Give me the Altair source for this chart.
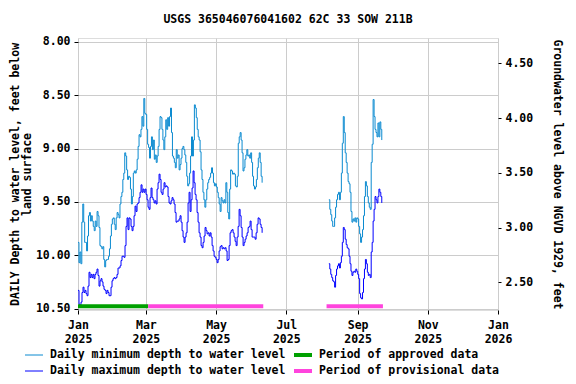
import altair as alt
import pandas as pd

TITLE = "USGS 365046076041602 62C 33 SOW 211B"
MIN_NAME = "Daily minimum depth to water level"
MAX_NAME = "Daily maximum depth to water level"
APP_NAME = "Period of approved data"
PRO_NAME = "Period of provisional data"

# Segment 1: 2025-01-01 .. 2025-06-10
seg1_span = ("2025-01-01", "2025-06-10")
min1 = [9.88,10.07,9.97,10.08,9.69,9.52,9.69,9.88,9.88,9.96,9.82,9.63,9.60,9.68,9.63,9.68,9.73,9.77,9.68,9.73,
        9.59,9.63,9.74,9.91,9.92,9.94,9.92,10.04,10.11,10.05,10.04,10.04,10.01,9.94,9.82,9.71,9.66,9.65,9.71,9.76,
        9.65,9.60,9.62,9.65,9.52,9.45,9.41,9.29,9.23,9.04,9.07,9.20,9.29,9.26,9.27,9.38,9.52,9.45,9.23,9.21,
        9.23,9.20,9.10,8.98,8.87,8.89,8.82,8.70,8.79,8.53,8.67,8.68,8.82,8.96,8.99,9.09,8.98,8.89,9.01,8.92,
        9.10,9.06,9.13,9.07,8.98,8.82,8.70,8.71,8.82,8.92,9.01,8.89,8.73,8.82,8.71,8.79,8.70,8.62,8.85,9.07,
        9.09,9.13,9.18,9.01,9.09,9.06,9.20,9.15,9.09,9.00,8.98,9.01,9.06,9.13,9.26,9.35,9.33,9.23,9.07,8.89,
        9.07,8.92,8.59,8.62,8.71,8.82,8.89,8.92,9.03,9.20,9.29,9.41,9.48,9.55,9.48,9.38,9.32,9.29,9.27,9.23,
        9.18,9.23,9.32,9.35,9.33,9.36,9.41,9.46,9.52,9.59,9.46,9.49,9.51,9.48,9.51,9.32,9.41,9.60,9.66,9.38,
        9.20,9.21,9.24,9.23,9.24,9.35,9.36,9.26,8.95,8.89,8.85,8.92,9.04,9.21,9.18,9.10,9.06,9.01,9.07,9.06,
        9.09,9.04,9.13,9.26,9.35,9.38,9.36,9.29,9.18,9.09,9.04,9.13,9.26,9.32]
max1 = [10.33,10.46,10.47,10.44,10.35,10.30,10.35,10.33,10.36,10.38,10.29,10.16,10.21,10.18,10.21,10.18,10.22,10.18,10.16,10.13,
        10.19,10.29,10.24,10.22,10.25,10.29,10.32,10.33,10.36,10.33,10.35,10.38,10.38,10.30,10.24,10.22,10.21,10.22,10.21,10.18,
        10.12,10.12,10.10,10.05,10.01,10.01,10.02,9.91,9.73,9.65,9.76,9.65,9.66,9.73,9.77,9.73,9.63,9.54,9.59,9.52,
        9.51,9.46,9.41,9.34,9.41,9.38,9.41,9.38,9.43,9.48,9.55,9.57,9.46,9.37,9.46,9.48,9.51,9.49,9.52,9.38,
        9.32,9.24,9.29,9.41,9.43,9.38,9.32,9.36,9.35,9.36,9.45,9.51,9.52,9.49,9.46,9.48,9.52,9.60,9.69,9.68,
        9.68,9.66,9.63,9.69,9.77,9.83,9.88,9.83,9.79,9.69,9.51,9.41,9.59,9.48,9.37,9.21,9.32,9.43,9.48,9.60,
        9.69,9.79,9.83,9.91,9.93,9.88,9.82,9.74,9.77,9.80,9.79,9.82,9.79,9.83,9.91,9.96,10.01,10.02,10.04,10.07,
        10.04,9.96,9.92,9.91,9.94,9.93,9.94,9.93,9.96,10.05,10.04,9.91,9.79,9.77,9.76,9.79,9.83,9.87,9.91,9.83,
        9.73,9.57,9.63,9.74,9.83,9.91,9.88,9.85,9.82,9.79,9.74,9.73,9.68,9.76,9.83,9.83,9.83,9.85,9.79,9.71,
        9.65,9.66,9.71,9.74,9.79]

# Segment 2: 2025-08-07 .. 2025-09-22
seg2_span = ("2025-08-07", "2025-09-22")
min2 = [9.48,9.57,9.62,9.68,9.73,9.73,9.65,9.55,9.48,9.43,9.41,9.48,9.41,9.23,8.95,8.70,8.85,9.04,9.13,9.23,
        9.31,9.33,9.41,9.59,9.69,9.66,9.68,9.65,9.69,9.65,9.66,9.73,9.80,9.88,9.83,9.76,9.63,9.45,9.31,9.35,
        9.45,9.51,9.55,9.57,9.13,8.96,8.54,8.70,8.82,8.85,8.89,8.76,8.89,8.75,8.82,8.92]
max2 = [10.08,10.13,10.18,10.21,10.24,10.25,10.30,10.19,10.13,10.10,10.08,10.12,10.07,10.01,9.88,9.74,9.76,9.85,9.90,9.93,
        9.94,10.01,10.08,10.15,10.19,10.16,10.15,10.16,10.13,10.15,10.18,10.22,10.36,10.40,10.41,10.35,10.22,10.13,10.04,10.08,
        10.16,10.19,10.18,10.21,9.97,9.88,9.68,9.57,9.45,9.48,9.51,9.45,9.38,9.41,9.45,9.51]

# Data-status periods
period_names = [APP_NAME, PRO_NAME, PRO_NAME]
period_start = ["2025-01-01", "2025-03-03", "2025-08-05"]
period_end = ["2025-03-03", "2025-06-11", "2025-09-23"]
period_depth = 10.48

x_ticks = [(2025, 1), (2025, 3), (2025, 5), (2025, 7), (2025, 9), (2025, 11), (2026, 1)]
left_ticks = [8.0, 8.5, 9.0, 9.5, 10.0, 10.5]
right_ticks = [2.5, 3.0, 3.5, 4.0, 4.5]

left_domain = [7.963, 10.514]
right_domain = [2.248, 4.73]

line_names = [MIN_NAME, MAX_NAME]
line_colors = ["#0a8ad0", "#0000ff"]
status_names = [APP_NAME, PRO_NAME]
status_colors = ["#00a000", "#ff44dd"]

FONT = "DejaVu Sans Mono"
FS = 11.5
THIN_SYMBOL = "M-1.2,0H1.2"
THICK_SYMBOL = "M-1.2,-0.2H1.2M-1.2,-0.0667H1.2M-1.2,0.0667H1.2M-1.2,0.2H1.2"


def legend(x, symbol):
    return alt.Legend(
        title=None, orient="none", legendX=x, legendY=309, direction="vertical",
        symbolType=symbol, symbolSize=225, symbolStrokeWidth=1, labelOffset=8,
        rowPadding=2, padding=0,
        labelFont=FONT, labelFontSize=FS, labelFontWeight="bold", labelColor="black",
        labelLimit=400,
    )


def seg(vals, span, name, sid):
    d = pd.date_range(span[0], span[1], periods=len(vals))
    return pd.DataFrame({"date": d, "depth": vals, "series": name, "seg": sid})


lines = pd.concat([
    seg(min1, seg1_span, MIN_NAME, "a1"),
    seg(max1, seg1_span, MAX_NAME, "b1"),
    seg(min2, seg2_span, MIN_NAME, "a2"),
    seg(max2, seg2_span, MAX_NAME, "b2"),
], ignore_index=True)

periods = pd.DataFrame({
    "start": pd.to_datetime(period_start),
    "end": pd.to_datetime(period_end),
    "status": period_names,
    "depth": [period_depth] * len(period_names),
})

right_df = pd.DataFrame({"level": right_ticks})

xscale = alt.Scale(domain=[alt.DateTime(year=2025, month=1, date=1),
                           alt.DateTime(year=2026, month=1, date=1)])
xaxis = alt.Axis(
    title=None,
    values=[alt.DateTime(year=y, month=m, date=1) for y, m in x_ticks],
    labelExpr="[timeFormat(datum.value, '%b'), timeFormat(datum.value, '%Y')]",
    labelFont=FONT, labelFontSize=FS, labelFontWeight="bold", labelColor="black",
    labelLineHeight=14, labelPadding=5, tickSize=4, tickColor="black",
    labelFlush=False, labelOverlap=False,
    domain=False, grid=True, gridColor="#cccccc", gridWidth=1,
)
yscale = alt.Scale(domain=left_domain, reverse=True, zero=False, nice=False)
yaxis = alt.Axis(
    title=["DAILY Depth to water level, feet below", "land surface"],
    values=left_ticks, format=".2f",
    labelFont=FONT, labelFontSize=FS, labelFontWeight="bold", labelColor="black",
    titleFont=FONT, titleFontSize=FS, titleFontWeight="bold", titleColor="black",
    titleLineHeight=12, titlePadding=3,
    labelPadding=4, tickSize=4, tickColor="black",
    domain=False, grid=True, gridColor="#cccccc", gridWidth=1,
)

line_layer = alt.Chart(lines).mark_line(interpolate="step-after", strokeWidth=1).encode(
    x=alt.X("date:T", scale=xscale, axis=xaxis),
    y=alt.Y("depth:Q", scale=yscale, axis=yaxis),
    stroke=alt.Stroke("series:N", scale=alt.Scale(domain=line_names, range=line_colors),
                      legend=legend(-52, THIN_SYMBOL)),
    detail="seg:N",
)

period_layer = alt.Chart(periods).mark_rule(strokeCap="butt", strokeWidth=4).encode(
    x="start:T",
    x2="end:T",
    y=alt.Y("depth:Q", scale=yscale),
    stroke=alt.Stroke("status:N", scale=alt.Scale(domain=status_names, range=status_colors),
                      legend=legend(217, THICK_SYMBOL)),
)

right_layer = alt.Chart(right_df).mark_point(opacity=0).encode(
    y=alt.Y(
        "level:Q",
        scale=alt.Scale(domain=right_domain, zero=False, nice=False),
        axis=alt.Axis(
            orient="right", title="Groundwater level above NGVD 1929, feet",
            values=right_ticks, format=".2f",
            labelFont=FONT, labelFontSize=FS, labelFontWeight="bold", labelColor="black",
            titleFont=FONT, titleFontSize=FS, titleFontWeight="bold", titleColor="black",
            titlePadding=19, labelPadding=4, tickSize=3, tickColor="black",
            domain=False, grid=False,
        ),
    ),
)

depth_layers = alt.layer(line_layer, period_layer).resolve_scale(stroke="independent")

chart = alt.layer(depth_layers, right_layer).resolve_scale(
    y="independent"
).properties(
    width=420,
    height=272,
    title=alt.Title(TITLE, font=FONT, fontSize=FS, fontWeight="bold", color="black",
                    anchor="middle", offset=10),
    autosize=alt.AutoSizeParams(type="none"),
    padding={"left": 70, "top": 30, "right": 70, "bottom": 66},
).configure_view(
    stroke="black", strokeWidth=1.5,
).configure(background="white")

chart.save("out.html", embed_options={"renderer": "svg", "actions": False})
